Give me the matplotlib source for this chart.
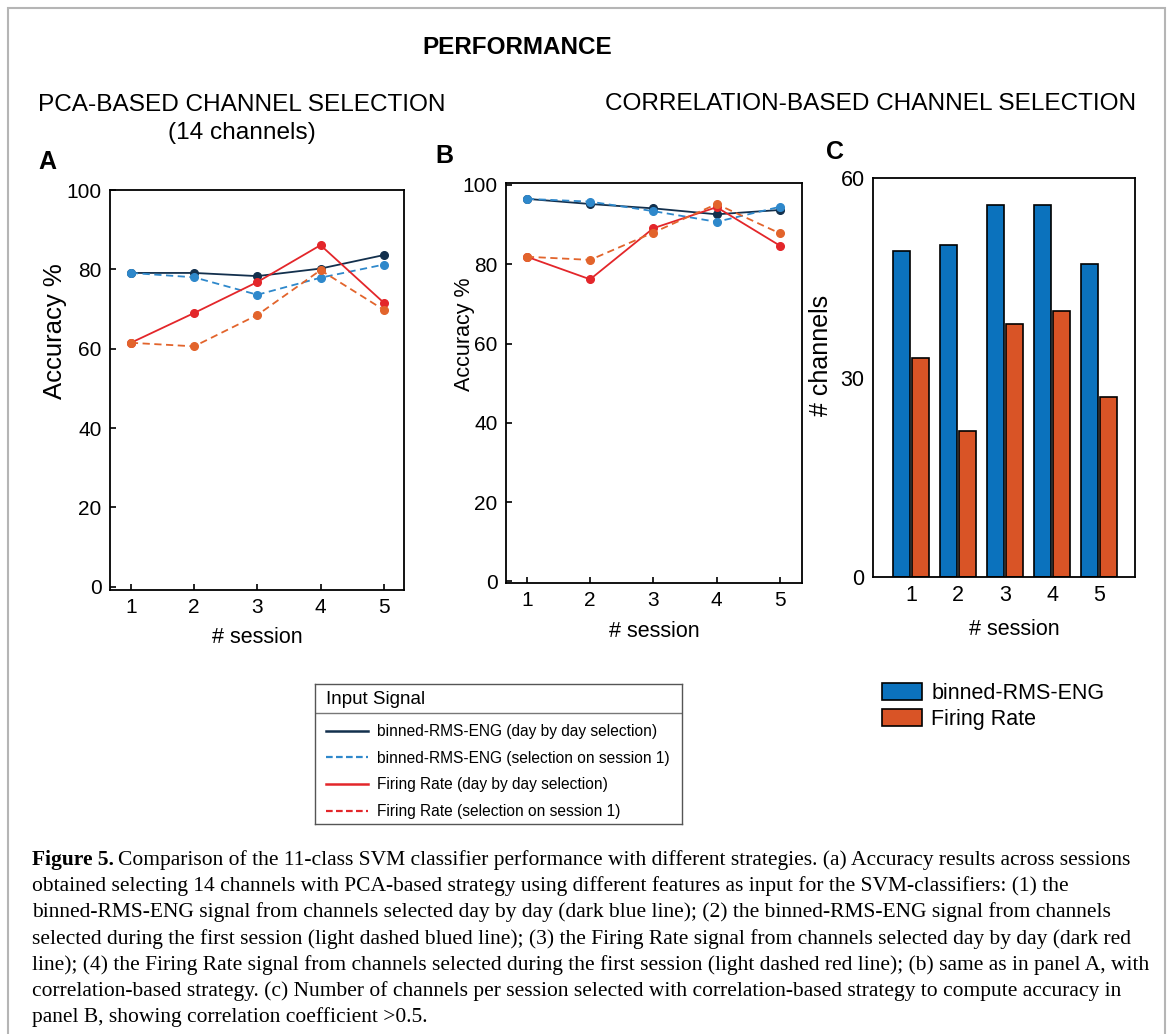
import numpy as np
import matplotlib
matplotlib.use('Agg')
import matplotlib.pyplot as plt
from matplotlib.lines import Line2D
from matplotlib.patches import Rectangle

plt.rcParams['font.family'] = ['Liberation Sans', 'DejaVu Sans']

# data
sessions = np.array([1, 2, 3, 4, 5])

# A - PCA-based channel selection (14 channels), accuracy %
pca_rms_daily = [79.1, 79.1, 78.3, 80.2, 83.6]
pca_rms_first = [79.1, 78.0, 73.6, 77.9, 81.2]
pca_fr_daily = [61.5, 69.0, 76.8, 86.1, 71.6]
pca_fr_first = [61.5, 60.6, 68.5, 79.8, 69.8]

# B - correlation-based channel selection, accuracy %
corr_rms_daily = [96.5, 95.2, 94.1, 92.6, 93.7]
corr_rms_first = [96.5, 95.8, 93.4, 90.7, 94.5]
corr_fr_daily = [81.9, 76.2, 89.1, 94.4, 84.7]
corr_fr_first = [81.9, 81.1, 88.0, 95.2, 87.8]

# C - number of channels per session
n_rms = [49, 50, 56, 56, 47]
n_fr = [33, 22, 38, 40, 27]

legend_labels = ['binned-RMS-ENG (day by day selection)',
                 'binned-RMS-ENG (selection on session 1)',
                 'Firing Rate (day by day selection)',
                 'Firing Rate (selection on session 1)']

W, H = 1171, 1034
fig = plt.figure(figsize=(W / 100, H / 100), dpi=100)


def box(l, t, r, b):
    # pixel box -> figure fraction
    return [l / W, 1 - b / H, (r - l) / W, (b - t) / H]


line_styles = [('#13304d', '-'), ('#2e88cb', '--'), ('#e3262a', '-'), ('#e2642c', '--')]


def style_axes(ax, labelsize=15):
    for s in ax.spines.values():
        s.set_linewidth(1.3)
    ax.tick_params(direction='in', length=4, width=1.2, labelsize=labelsize,
                   pad=6, top=False, right=False)


def accuracy_panel(ax, series, ylim, xlim):
    for vals, (c, ls) in zip(series, line_styles):
        if ls == '--':
            ax.plot(sessions, vals, color=c, lw=1.3, marker='o', ms=5.5,
                    dashes=(4, 2.5))
        else:
            ax.plot(sessions, vals, color=c, lw=1.3, marker='o', ms=5.5)
    ax.set_xlim(*xlim)
    ax.set_ylim(*ylim)
    ax.set_xticks(sessions)
    ax.set_yticks([0, 20, 40, 60, 80, 100])
    style_axes(ax)


# panel A
axA = fig.add_axes(box(110, 190, 404, 590))
accuracy_panel(axA, [pca_rms_daily, pca_rms_first, pca_fr_daily, pca_fr_first],
               (-0.8, 100), (0.67, 5.32))
axA.set_ylabel('Accuracy %', fontsize=18.5)
axA.yaxis.set_label_coords(-0.146, 0.6475)
axA.set_xlabel('# session', fontsize=15.5)
axA.xaxis.set_label_coords(0.5, -0.092)

# panel B
axB = fig.add_axes(box(506, 183, 802, 583))
accuracy_panel(axB, [corr_rms_daily, corr_rms_first, corr_fr_daily, corr_fr_first],
               (-0.4, 100.5), (0.67, 5.35))
axB.set_ylabel('Accuracy %', fontsize=15.5)
axB.yaxis.set_label_coords(-0.105, 0.6225)
axB.set_xlabel('# session', fontsize=15.5)
axB.xaxis.set_label_coords(0.5, -0.095)

# panel C
axC = fig.add_axes(box(873, 178, 1135, 577))
b1 = axC.bar(sessions - 0.2, n_rms, 0.36, color='#0b72bd', edgecolor='black', lw=1.2)
b2 = axC.bar(sessions + 0.2, n_fr, 0.36, color='#d95426', edgecolor='black', lw=1.2)
axC.set_xlim(0.19, 5.76)
axC.set_ylim(0, 60)
axC.set_xticks(sessions)
axC.set_yticks([0, 30, 60])
style_axes(axC, labelsize=15.5)
axC.tick_params(length=0)
axC.set_ylabel('# channels', fontsize=18)
axC.yaxis.set_label_coords(-0.153, 0.556)
axC.set_xlabel('# session', fontsize=15.5)
axC.xaxis.set_label_coords(0.538, -0.105)

fig.legend([b1, b2], ['binned-RMS-ENG', 'Firing Rate'], loc='upper left',
           bbox_to_anchor=(871 / W, 1 - 672 / H), frameon=False, fontsize=15.5,
           handlelength=1.85, handleheight=0.8, handletextpad=0.45,
           labelspacing=0.25, borderpad=0)

# legend box for A/B
axL = fig.add_axes(box(315, 684, 682, 824))
axL.set_xticks([])
axL.set_yticks([])
axL.set_xlim(0, 1)
axL.set_ylim(0, 1)
for s in axL.spines.values():
    s.set_linewidth(1.0)
    s.set_edgecolor('#555555')
axL.text(11 / 367, 1 - 16 / 140, 'Input Signal', fontsize=13.5, va='center', ha='left')
axL.axhline(1 - 29 / 140, color='#777777', lw=1.0)
legend_colors = ['#13304d', '#2e88cb', '#e3262a', '#e3262a']
proxies = []
for c, (_, ls) in zip(legend_colors, line_styles):
    if ls == '--':
        proxies.append(Line2D([], [], color=c, lw=1.6, dashes=(3, 1.5)))
    else:
        proxies.append(Line2D([], [], color=c, lw=1.8))
axL.legend(proxies, legend_labels, loc='upper left', bbox_to_anchor=(11 / 367, 1 - 40 / 140),
           frameon=False, fontsize=11.2, handlelength=2.7, handletextpad=0.6,
           labelspacing=0.75, borderpad=0, borderaxespad=0)

# headings
fig.text(517 / W, 1 - 47 / H, 'PERFORMANCE', fontsize=17.5, fontweight='bold',
         ha='center', va='center')
fig.text(242 / W, 1 - 105 / H, 'PCA-BASED CHANNEL SELECTION', fontsize=17.6,
         ha='center', va='center')
fig.text(242 / W, 1 - 133 / H, '(14 channels)', fontsize=17.6, ha='center', va='center')
fig.text(871 / W, 1 - 104 / H, 'CORRELATION-BASED CHANNEL SELECTION', fontsize=17.6,
         ha='center', va='center')
fig.text(47 / W, 1 - 162 / H, 'A', fontsize=18, fontweight='bold', ha='center', va='center')
fig.text(444 / W, 1 - 156 / H, 'B', fontsize=18, fontweight='bold', ha='center', va='center')
fig.text(835 / W, 1 - 152 / H, 'C', fontsize=18, fontweight='bold', ha='center', va='center')

# caption
caption = [
    "Comparison of the 11-class SVM classifier performance with different strategies. (a) Accuracy results across sessions",
    "obtained selecting 14 channels with PCA-based strategy using different features as input for the SVM-classifiers: (1) the",
    "binned-RMS-ENG signal from channels selected day by day (dark blue line); (2) the binned-RMS-ENG signal from channels",
    "selected during the first session (light dashed blued line); (3) the Firing Rate signal from channels selected day by day (dark red",
    "line); (4) the Firing Rate signal from channels selected during the first session (light dashed red line); (b) same as in panel A, with",
    "correlation-based strategy. (c) Number of channels per session selected with correlation-based strategy to compute accuracy in",
    "panel B, showing correlation coefficient >0.5.",
]
serif = ['Liberation Serif', 'DejaVu Serif']
renderer = fig.canvas.get_renderer()
probe = fig.text(0, 0, caption[4], fontsize=10, family=serif)
w10 = probe.get_window_extent(renderer).width
probe.remove()
cap_size = 10 * (1150 - 32) / w10
x0 = 32 / W
for i, line in enumerate(caption):
    y = 1 - (860 + i * 26.2) / H
    if i == 0:
        t = fig.text(x0, y, 'Figure 5.', fontsize=cap_size, family=serif,
                     fontweight='bold', va='center', ha='left')
        wb = t.get_window_extent(renderer).width
        fig.text(x0 + (wb + 4) / W, y, line, fontsize=cap_size, family=serif,
                 va='center', ha='left')
    else:
        fig.text(x0, y, line, fontsize=cap_size, family=serif, va='center', ha='left')

# thin grey page frame
fig.patches.append(Rectangle((8 / W, -0.02), (1165 - 8) / W, 1.02 - 8 / H,
                             transform=fig.transFigure, fill=False,
                             edgecolor='#b5b5b5', lw=1.5))

fig.savefig('out.png', dpi=100)
